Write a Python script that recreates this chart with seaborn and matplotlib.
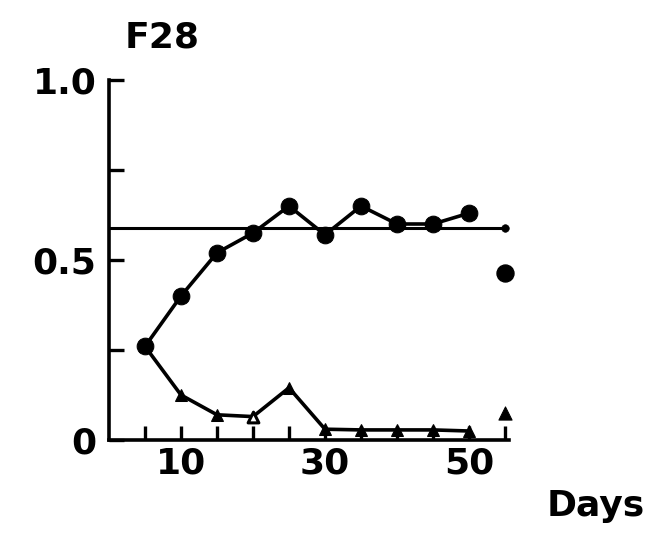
import matplotlib
matplotlib.use("Agg")
import matplotlib.pyplot as plt
import seaborn as sns

# ---- data ----
days = [5, 10, 15, 20, 25, 30, 35, 40, 45, 50]
circle_vals = [0.26, 0.40, 0.52, 0.575, 0.65, 0.57, 0.65, 0.60, 0.60, 0.63]
triangle_vals = [0.26, 0.125, 0.07, 0.065, 0.145, 0.03, 0.028, 0.028, 0.028, 0.025]
open_triangle_days = [20]
extra_day = [55]
extra_circle = [0.465]
extra_triangle = [0.075]
ref_x = [0, 55]
ref_level = [0.59, 0.59]
x_ticks = [5, 10, 15, 20, 25, 30, 35, 40, 45, 50, 55]
x_labeled = [10, 30, 50]
y_ticks = [0, 0.25, 0.5, 0.75, 1.0]
y_labels = ["0", "", "0.5", "", "1.0"]
title = "F28"
x_title = "Days"

sns.set_style("white")
plt.rcParams["font.family"] = ["DejaVu Sans"]

fig = plt.figure(figsize=(6.67, 5.36), dpi=100)
ax = fig.add_axes([109 / 667, 96 / 536, 55.6 * 7.2 / 667, 360 / 536])

# reference horizontal line
sns.lineplot(x=ref_x, y=ref_level, ax=ax, color="black", lw=2.2, clip_on=False)
sns.scatterplot(x=[ref_x[-1]], y=[ref_level[-1]], ax=ax, color="black", s=30,
                marker="o", edgecolor="black", clip_on=False, zorder=3)

# circle series
sns.lineplot(x=days, y=circle_vals, ax=ax, color="black", lw=2.6,
             marker="o", markersize=12, markeredgecolor="black",
             markerfacecolor="black", clip_on=False, zorder=4)
# triangle series
sns.lineplot(x=days, y=triangle_vals, ax=ax, color="black", lw=2.6,
             marker="^", markersize=9, markeredgecolor="black",
             markerfacecolor="black", clip_on=False, zorder=3)
open_vals = [triangle_vals[days.index(d)] for d in open_triangle_days]
sns.scatterplot(x=open_triangle_days, y=open_vals, ax=ax, marker="^", s=60,
                facecolor="white", edgecolor="black", linewidth=2.2,
                clip_on=False, zorder=5)
# isolated points at day 55
sns.scatterplot(x=extra_day, y=extra_circle, ax=ax, marker="o", s=150,
                color="black", edgecolor="black", clip_on=False, zorder=5)
sns.scatterplot(x=extra_day, y=extra_triangle, ax=ax, marker="^", s=90,
                color="black", edgecolor="black", clip_on=False, zorder=5)

ax.set_xlim(0, 55.6)
ax.set_ylim(0, 1.0)
ax.set_xticks(x_ticks)
ax.set_xticklabels([str(d) if d in x_labeled else "" for d in x_ticks])
ax.set_yticks(y_ticks)
ax.set_yticklabels(y_labels)

for s in ["top", "right"]:
    ax.spines[s].set_visible(False)
for s in ["left", "bottom"]:
    ax.spines[s].set_linewidth(2.6)
    ax.spines[s].set_color("black")

ax.tick_params(axis="x", bottom=True, direction="in", length=10, width=2.4,
               pad=5, labelsize=26, colors="black")
ax.tick_params(axis="y", left=True, direction="in", length=11, width=2.4,
               pad=9, labelsize=26, colors="black")
for lab in ax.get_xticklabels() + ax.get_yticklabels():
    lab.set_fontweight("bold")

ax.set_xlabel("")
ax.set_ylabel("")
if ax.get_legend():
    ax.get_legend().remove()

fig.text(162 / 667, 1 - 48 / 536, title, fontsize=26, fontweight="bold",
         color="black", ha="center", va="baseline")
fig.text(596 / 667, 1 - 516 / 536, x_title, fontsize=26, fontweight="bold",
         color="black", ha="center", va="baseline")

fig.savefig("out.png", dpi=100, facecolor="white")
